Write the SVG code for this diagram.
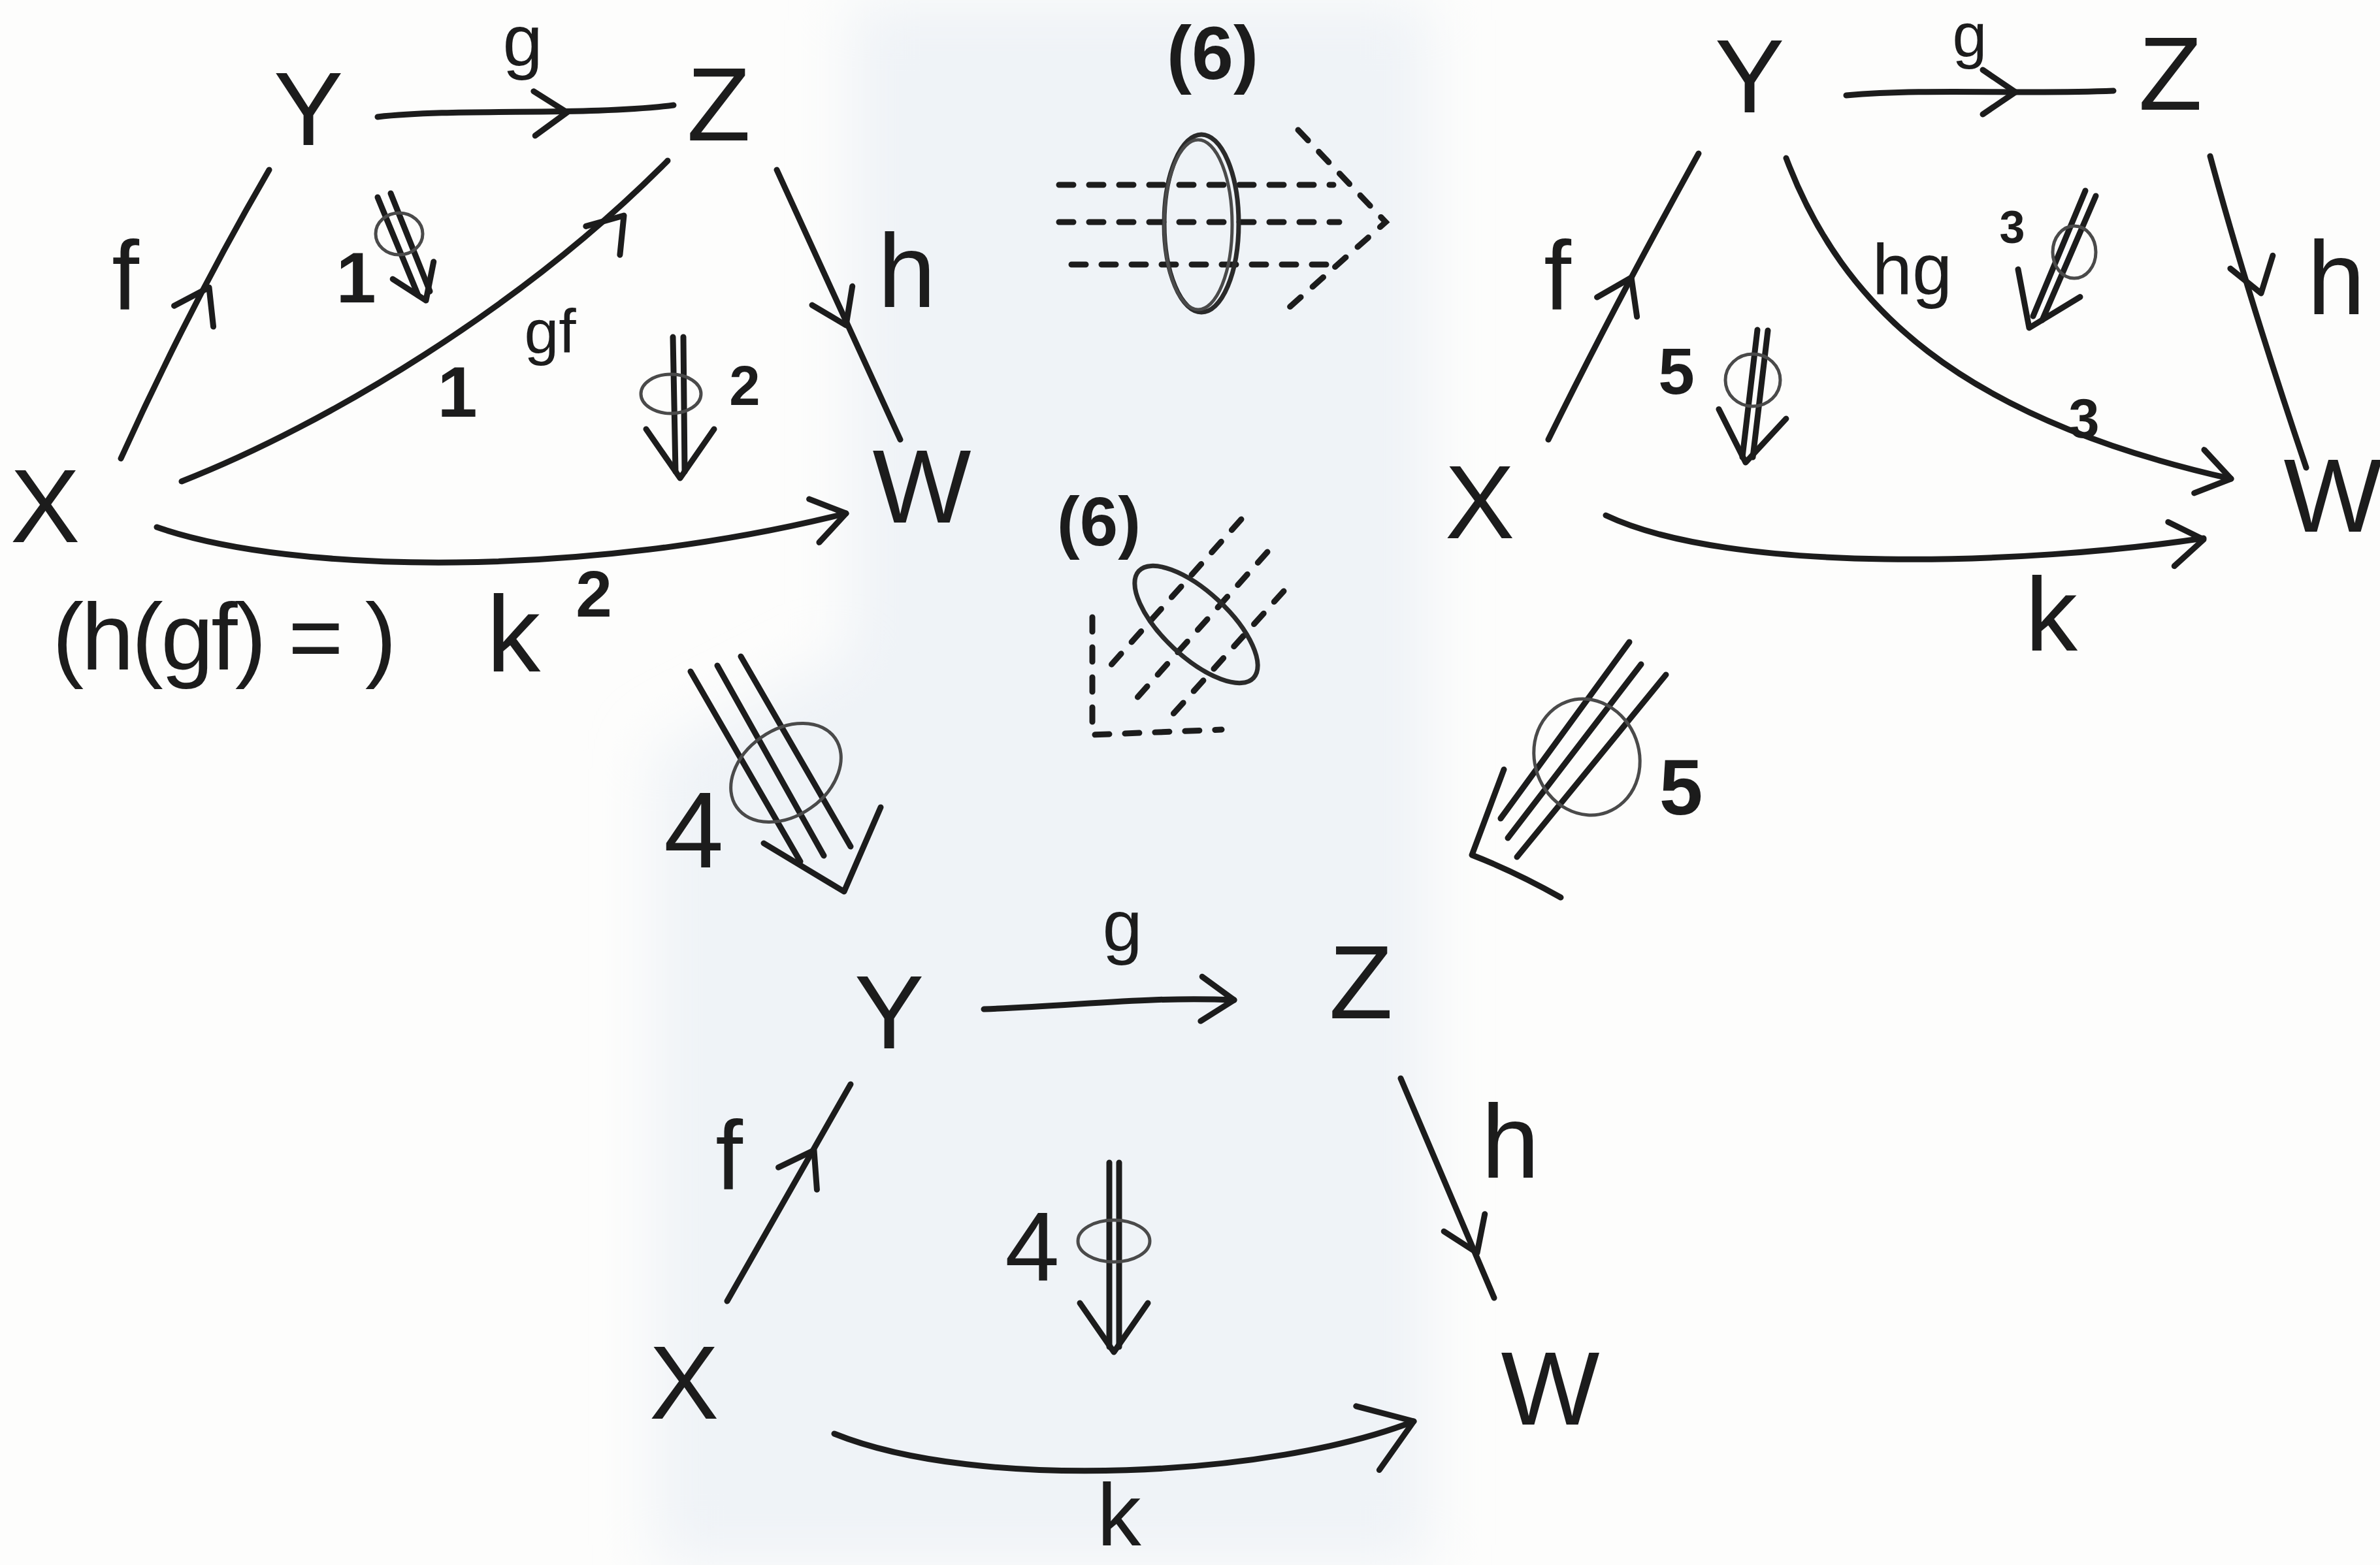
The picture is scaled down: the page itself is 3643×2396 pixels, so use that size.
<svg xmlns="http://www.w3.org/2000/svg" xmlns:xlink="http://www.w3.org/1999/xlink" width="3643" height="2396" viewBox="0 0 3643 2396">
<defs>
<style>
.node{font-family:"Liberation Sans",Arial,sans-serif;font-size:160px;fill:#1c1c1c;text-anchor:middle}
.lbl{font-family:"Liberation Sans",Arial,sans-serif;fill:#1c1c1c;text-anchor:middle}
.b{font-weight:bold}
.ln{fill:none;stroke:#1c1c1c;stroke-width:9;stroke-linecap:round;stroke-linejoin:round}
.dash{fill:none;stroke:#1c1c1c;stroke-width:9;stroke-linecap:round;stroke-dasharray:22 24}
.loop{fill:none;stroke:#4a4a4a;stroke-width:5}
.ring{fill:none;stroke:#2a2a2a;stroke-width:7}
</style>
<path id="chev" d="M-50,-34 L0,0 L-50,34" fill="none" stroke="#1c1c1c" stroke-width="9" stroke-linecap="round" stroke-linejoin="round"/>
<path id="chevL" d="M-75,-52 L0,0 L-75,52" fill="none" stroke="#1c1c1c" stroke-width="9" stroke-linecap="round" stroke-linejoin="round"/>
<filter id="soft" x="-20%" y="-20%" width="140%" height="140%"><feGaussianBlur stdDeviation="45"/></filter>
</defs>
<rect width="3643" height="2396" fill="#fdfdfc"/>
<polygon points="1300,0 2190,0 2190,2396 1000,2396 1000,1150 1300,1000" fill="#eff3f7" filter="url(#soft)"/>

<!-- top-left diagram nodes -->
<g id="tl-X"><text class="node" x="69" y="830">X</text></g>
<g id="tl-Y"><text class="node" x="472" y="222">Y</text></g>
<g id="tl-Z"><text class="node" x="1100" y="215">Z</text></g>
<g id="tl-W"><text class="node" x="1411" y="800">W</text></g>
<!-- top-right diagram nodes -->
<g id="tr-X"><text class="node" x="2265" y="824">X</text></g>
<g id="tr-Y"><text class="node" x="2678" y="172">Y</text></g>
<g id="tr-Z"><text class="node" x="3322" y="168">Z</text></g>
<g id="tr-W"><text class="node" x="3571" y="814">W</text></g>
<!-- bottom diagram nodes -->
<g id="b-X"><text class="node" x="1047" y="2172">X</text></g>
<g id="b-Y"><text class="node" x="1361" y="1605">Y</text></g>
<g id="b-Z"><text class="node" x="2083" y="1559">Z</text></g>
<g id="b-W"><text class="node" x="2373" y="2181">W</text></g>

<g id="connectors">
  <!-- top-left -->
  <path class="ln" d="M578,179 C700,165 900,178 1031,161"/>
  <use xlink:href="#chev" transform="translate(868,172) rotate(-2)"/>
  <path class="ln" d="M185,702 Q290,470 412,260"/>
  <use xlink:href="#chev" transform="translate(320,440) rotate(-62)"/>
  <path class="ln" d="M278,737 C500,650 800,470 1022,246"/>
  <use xlink:href="#chev" transform="translate(955,330) rotate(-50)"/>
  <path class="ln" d="M1189,260 L1378,673"/>
  <use xlink:href="#chev" transform="translate(1295,498) rotate(65)"/>
  <path class="ln" d="M240,807 C450,880 900,885 1295,786"/>
  <use xlink:href="#chev" transform="translate(1295,786) rotate(-13)"/>
  <!-- top-right -->
  <path class="ln" d="M2826,146 C2950,135 3100,145 3235,139"/>
  <use xlink:href="#chev" transform="translate(3085,141) rotate(0)"/>
  <path class="ln" d="M2370,673 Q2470,470 2600,235"/>
  <use xlink:href="#chev" transform="translate(2497,425) rotate(-64)"/>
  <path class="ln" d="M2734,242 C2820,470 3000,640 3415,733"/>
  <use xlink:href="#chev" transform="translate(3415,733) rotate(13)"/>
  <path class="ln" d="M3383,239 Q3440,450 3530,716"/>
  <use xlink:href="#chev" transform="translate(3461,449) rotate(73)"/>
  <path class="ln" d="M2458,789 C2650,880 3100,865 3373,824"/>
  <use xlink:href="#chev" transform="translate(3373,826) rotate(-8)"/>
  <!-- bottom -->
  <path class="ln" d="M1506,1545 C1650,1540 1760,1525 1889,1531"/>
  <use xlink:href="#chev" transform="translate(1889,1531) rotate(2)"/>
  <path class="ln" d="M1113,1992 L1302,1660"/>
  <use xlink:href="#chev" transform="translate(1246,1761) rotate(-60)"/>
  <path class="ln" d="M2144,1651 L2287,1987"/>
  <use xlink:href="#chev" transform="translate(2261,1918) rotate(67)"/>
  <path class="ln" d="M1277,2195 C1500,2285 1950,2260 2164,2176"/>
  <use xlink:href="#chevL" transform="translate(2164,2176) rotate(-20)"/>
</g>

<g id="two-cells">
  <!-- 1 -->
  <path class="ln" d="M578,302 L640,452 M598,296 L658,446"/>
  <use xlink:href="#chev" transform="translate(652,460) rotate(67)"/>
  <ellipse class="loop" cx="611" cy="358" rx="36" ry="32"/>
  <!-- 2 -->
  <path class="ln" d="M1030,516 L1034,722 M1046,516 L1048,722"/>
  <use xlink:href="#chevL" transform="translate(1041,732) rotate(90)"/>
  <ellipse class="loop" cx="1027" cy="603" rx="46" ry="30"/>
  <!-- 3 -->
  <path class="ln" d="M3192,292 L3112,484 M3208,300 L3126,490"/>
  <use xlink:href="#chevL" transform="translate(3106,502) rotate(114)"/>
  <ellipse class="loop" cx="3175" cy="386" rx="33" ry="40"/>
  <!-- 5 small -->
  <path class="ln" d="M2690,505 L2667,700 M2706,506 L2683,700"/>
  <use xlink:href="#chevL" transform="translate(2672,708) rotate(98)"/>
  <ellipse class="loop" cx="2683" cy="582" rx="42" ry="40"/>
  <!-- 4 small -->
  <path class="ln" d="M1698,1780 L1698,2062 M1713,1780 L1713,2062"/>
  <use xlink:href="#chevL" transform="translate(1705,2070) rotate(90)"/>
  <ellipse class="loop" cx="1705" cy="1900" rx="55" ry="32"/>
  <!-- big 4 -->
  <path class="ln" d="M1057,1028 L1225,1319 M1098,1019 L1261,1310 M1134,1005 L1302,1296"/>
  <path class="ln" d="M1169,1291 L1292,1365 L1348,1236"/>
  <ellipse class="loop" cx="1203" cy="1183" rx="92" ry="66" transform="rotate(-35 1203 1183)"/>
  <!-- big 5 -->
  <path class="ln" d="M2494,983 L2297,1253 M2512,1017 L2308,1283 M2550,1033 L2322,1312"/>
  <path class="ln" d="M2302,1178 L2253,1309 Q2320,1335 2389,1374"/>
  <ellipse class="loop" cx="2429" cy="1159" rx="80" ry="90" transform="rotate(-20 2429 1159)"/>
</g>

<g id="modification-6">
  <path class="dash" d="M1621,283 L2041,283 M1621,340 L2050,340 M1640,405 L2054,405"/>
  <path class="dash" d="M1987,199 L2121,340 L1965,478"/>
  <ellipse class="ring" cx="1839" cy="342" rx="57" ry="136"/>
  <ellipse class="loop" cx="1834" cy="344" rx="52" ry="130"/>
  <path class="dash" d="M1900,795 L1690,1030 M1940,845 L1730,1080 M1965,905 L1785,1105"/>
  <path class="dash" d="M1672,945 L1672,1125 L1870,1117"/>
  <ellipse class="ring" cx="1831" cy="956" rx="120" ry="50" transform="rotate(43 1831 956)"/>
</g>

<g id="labels">
  <!-- top-left -->
  <text class="lbl" x="800" y="100" font-size="110">g</text>
  <text class="lbl" x="192" y="474" font-size="150">f</text>
  <text class="lbl" x="842" y="540" font-size="95">gf</text>
  <text class="lbl b" x="700" y="638" font-size="110">1</text>
  <text class="lbl b" x="545" y="463" font-size="110">1</text>
  <text class="lbl" x="1388" y="470" font-size="160">h</text>
  <text class="lbl b" x="1140" y="620" font-size="85">2</text>
  <text class="lbl" x="786" y="1028" font-size="165">k</text>
  <text class="lbl b" x="909" y="944" font-size="100">2</text>
  <text class="lbl" x="80" y="1025" font-size="145" textLength="527" lengthAdjust="spacing" style="text-anchor:start">(h(gf) = )</text>
  <!-- top-right -->
  <text class="lbl" x="3015" y="86" font-size="95">g</text>
  <text class="lbl" x="2384" y="474" font-size="150">f</text>
  <text class="lbl" x="2927" y="450" font-size="110">hg</text>
  <text class="lbl b" x="3080" y="372" font-size="70">3</text>
  <text class="lbl b" x="3190" y="670" font-size="85">3</text>
  <text class="lbl b" x="2566" y="603" font-size="100">5</text>
  <text class="lbl" x="3576" y="481" font-size="160">h</text>
  <text class="lbl" x="3140" y="996" font-size="160">k</text>
  <!-- bottom -->
  <text class="lbl" x="1718" y="1455" font-size="110">g</text>
  <text class="lbl" x="1116" y="1821" font-size="150">f</text>
  <text class="lbl" x="2312" y="1803" font-size="160">h</text>
  <text class="lbl" x="1580" y="1960" font-size="150">4</text>
  <text class="lbl" x="1713" y="2366" font-size="135">k</text>
  <!-- big 2-cell labels -->
  <text class="lbl" x="1062" y="1328" font-size="165">4</text>
  <text class="lbl b" x="2573" y="1247" font-size="120">5</text>
  <text class="lbl b" x="1856" y="121" font-size="115">(6)</text>
  <text class="lbl b" x="1682" y="835" font-size="105">(6)</text>
</g>
</svg>
